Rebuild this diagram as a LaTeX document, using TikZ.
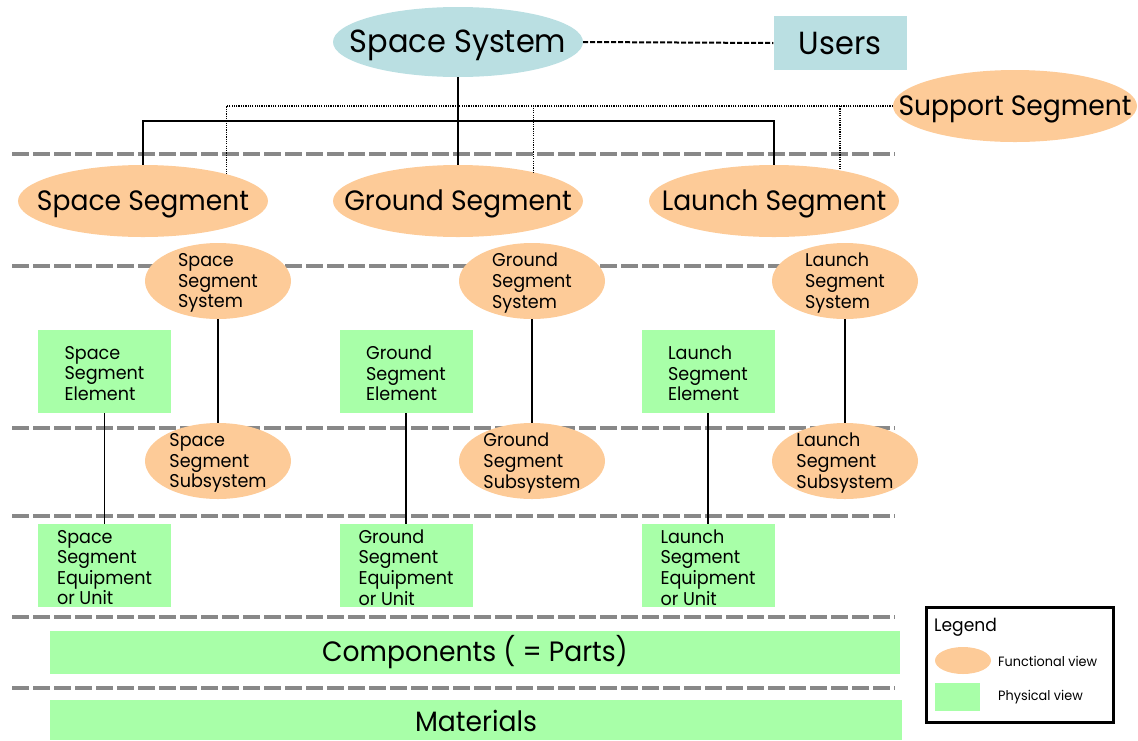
\documentclass[tikz,border=0pt]{standalone}
\usepackage{fontspec}
\setmainfont[FakeStretch=0.95]{Poppins}
\usetikzlibrary{shapes.geometric}
\definecolor{funcfill}{HTML}{FDCB98}
\definecolor{physfill}{HTML}{A8FFA8}
\definecolor{topfill}{HTML}{BADFE2}
\definecolor{levelgray}{HTML}{888888}
\tikzset{
  func/.style={ellipse, fill=funcfill, inner sep=0pt},
  phys/.style={rectangle, fill=physfill, inner sep=0pt, align=left},
  big/.style={font=\fontsize{28}{30}\selectfont},
  small/.style={font=\fontsize{18.5}{20.6}\selectfont},
  inner/.style={inner sep=0pt, align=left},
  level/.style={draw=levelgray, line width=4pt, dash pattern=on 16.5pt off 4.5pt},
  tree/.style={draw=black, line width=1.7pt},
  support/.style={draw=black, line width=1.3pt, dash pattern=on 1.2pt off 1.1pt},
  userlink/.style={draw=black, line width=2pt, dash pattern=on 5pt off 2pt},
}
\begin{document}
\begin{tikzpicture}[x=1pt, y=-1pt]
\useasboundingbox (0,0) rectangle (1138,740);

% level separators
\foreach \yy in {154,266,428,516,617,688}
  \draw[level] (12,\yy) -- (895,\yy);

% top of the hierarchy
\node[func, fill=topfill, minimum width=250pt, minimum height=70pt,
      label={[inner, font=\fontsize{32}{34}\selectfont, yshift=-3pt]center:Space System}] (sys) at (458,42) {};
\node[rectangle, fill=topfill, minimum width=133pt, minimum height=54pt,
      font=\fontsize{32}{34}\selectfont] (users) at (840,43) {Users};
\node[func, minimum width=244pt, minimum height=72pt,
      label={[inner, big, yshift=-3pt]center:Support Segment}] (sup) at (1015,106) {};

% segments
\node[func, minimum width=250pt, minimum height=72pt,
      label={[inner, big, yshift=-3pt]center:Space Segment}] (ss) at (143,201) {};
\node[func, minimum width=250pt, minimum height=72pt,
      label={[inner, big, yshift=-3pt]center:Ground Segment}] (gs) at (458,201) {};
\node[func, minimum width=250pt, minimum height=72pt,
      label={[inner, big, yshift=-3pt]center:Launch Segment}] (ls) at (774,201) {};

% systems
\node[func, minimum width=146pt, minimum height=76pt,
      label={[inner, small, yshift=-2pt]center:Space\\Segment\\System}] (sss) at (218,281) {};
\node[func, minimum width=146pt, minimum height=76pt,
      label={[inner, small, yshift=-2pt]center:Ground\\Segment\\System}] (gss) at (532,281) {};
\node[func, minimum width=146pt, minimum height=76pt,
      label={[inner, small, yshift=-2pt]center:Launch\\Segment\\System}] (lss) at (845,281) {};

% elements
\node[phys, minimum width=133pt, minimum height=83pt,
      label={[inner, small, yshift=-2pt]center:Space\\Segment\\Element}] (sse) at (104.5,371.5) {};
\node[phys, minimum width=133pt, minimum height=83pt,
      label={[inner, small, yshift=-2pt]center:Ground\\Segment\\Element}] (gse) at (406,371.5) {};
\node[phys, minimum width=133pt, minimum height=83pt,
      label={[inner, small, yshift=-2pt]center:Launch\\Segment\\Element}] (lse) at (708,371.5) {};

% subsystems
\node[func, minimum width=146pt, minimum height=76pt,
      label={[inner, small, yshift=-2pt]center:Space\\Segment\\Subsystem}] (ssu) at (218,461) {};
\node[func, minimum width=146pt, minimum height=76pt,
      label={[inner, small, yshift=-2pt]center:Ground\\Segment\\Subsystem}] (gsu) at (532,461) {};
\node[func, minimum width=146pt, minimum height=76pt,
      label={[inner, small, yshift=-2pt]center:Launch\\Segment\\Subsystem}] (lsu) at (845,461) {};

% equipment
\node[phys, minimum width=133pt, minimum height=83pt,
      label={[inner, small, yshift=-2pt]center:Space\\Segment\\Equipment\\or Unit}] (ssq) at (104.5,565.5) {};
\node[phys, minimum width=133pt, minimum height=83pt,
      label={[inner, small, yshift=-2pt]center:Ground\\Segment\\Equipment\\or Unit}] (gsq) at (406,565.5) {};
\node[phys, minimum width=133pt, minimum height=83pt,
      label={[inner, small, yshift=-2pt]center:Launch\\Segment\\Equipment\\or Unit}] (lsq) at (708,565.5) {};

% components and materials
\node[phys, big, minimum width=850pt, minimum height=43pt] (comp) at (475,652.5) {Components ( = Parts)};
\node[phys, minimum width=852pt, minimum height=40pt,
      label={[inner, big, yshift=-1pt]center:Materials}] (mat) at (476,720) {};

% connectors
\draw[userlink] (sys.east) -- (users.west);
\coordinate (bus) at (458,121);
\draw[tree] (sys.south) -- (gs.north);
\draw[tree] (ss.north) |- (bus) -| (ls.north);
\draw[support] (sup.west) -| (ss.18.2);
\draw[support] (sup.west) -| (gs.21.4);
\draw[support] (sup.west) -| (ls.25.8);

\draw[tree] (sss.south) -- (ssu.north);
\draw[tree] (gss.south) -- (gsu.north);
\draw[tree] (lss.south) -- (lsu.north);
\draw[tree] (sse.south) -- (ssq.north);
\draw[tree] (gse.south) -- (gsq.north);
\draw[tree] (lse.south) -- (lsq.north);

% legend
\node[draw=black, line width=3pt, minimum width=187pt, minimum height=115pt, inner sep=0pt] (legend) at (1019.5,664.5) {};
\node[anchor=west, inner sep=0pt, font=\fontsize{18}{20}\selectfont] (legtitle) at (934,627) {Legend};
\node[func, minimum width=56pt, minimum height=27pt] (legfunc) at (963,660.5) {};
\node[anchor=west, inner sep=0pt, font=\fontsize{13.5}{15}\selectfont] (legfunctxt) at (998,661) {Functional view};
\node[phys, minimum width=45pt, minimum height=28pt] (legphys) at (957.5,697) {};
\node[anchor=west, inner sep=0pt, font=\fontsize{13.5}{15}\selectfont] (legphystxt) at (998,697) {Physical view};
\end{tikzpicture}
\end{document}
